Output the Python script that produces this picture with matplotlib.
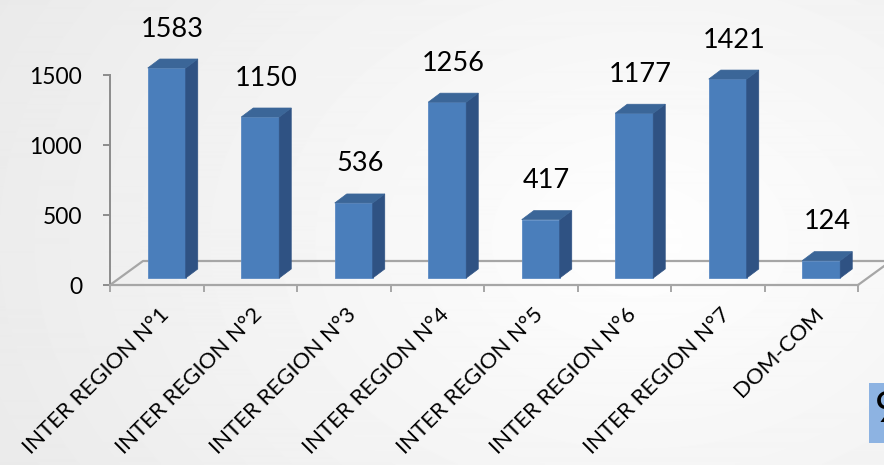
import numpy as np
import matplotlib
matplotlib.use('Agg')
import matplotlib.pyplot as plt
from matplotlib.patches import Polygon, Rectangle
import matplotlib.transforms as mtransforms

categories = ["INTER REGION N°1", "INTER REGION N°2", "INTER REGION N°3",
              "INTER REGION N°4", "INTER REGION N°5", "INTER REGION N°6",
              "INTER REGION N°7", "DOM-COM"]
values = [1583, 1150, 536, 1256, 417, 1177, 1421, 124]
y_ticks = [0, 500, 1000, 1500]
slide_number = "9"

plt.rcParams['font.family'] = ['Lato', 'DejaVu Sans']

W, H = 884, 465
fig = plt.figure(figsize=(W / 100, H / 100), dpi=100)

# background (soft radial gradient)
bg = fig.add_axes([0, 0, 1, 1], zorder=-10)
yy, xx = np.mgrid[0:H, 0:W]
r = np.hypot((xx - 640) / 720.0, (yy - 240) / 520.0)
shade = 0.997 - 0.08 * np.clip(r, 0, 1.3)
bg.imshow(shade, cmap='gray', vmin=0, vmax=1, aspect='auto', extent=[0, 1, 0, 1],
          interpolation='bilinear')
bg.axis('off')

# main axes (front plane)
ax = fig.add_axes([110 / W, 180 / H, 748 / W, 210 / H])
n = len(values)
ax.set_xlim(-0.5, n - 0.5)
ax.set_ylim(y_ticks[0], y_ticks[-1])
ax.patch.set_alpha(0)

px_x = 748 / n
px_y = 210 / (y_ticks[-1] - y_ticks[0])
def dx(p):
    return p / px_x
def dy(p):
    return p / px_y

axis_col = '#8c8c8c'
floor_col = '#a6a6a6'

# floor outline
fd_x, fd_y = dx(33), dy(24)
ax.plot([-0.5, -0.5 + fd_x, n - 0.5 + fd_x * 2], [0, fd_y, fd_y],
        color=floor_col, lw=1.6, clip_on=False, zorder=1)
ax.plot([n - 0.5, n - 0.5 + fd_x], [0, fd_y], color=floor_col, lw=1.6,
        clip_on=False, zorder=1)

# bars
x = np.arange(n)
heights = np.minimum(values, y_ticks[-1])
off_x, off_y = dx(10), dy(7)
bd_x, bd_y = dx(12), dy(9)
front_col, side_col, top_col = '#4a7ebb', '#2f5283', '#3b6698'
bars = ax.bar(x + off_x, heights, width=dx(38), bottom=off_y, color=front_col,
              edgecolor='#5b8ac4', linewidth=0.6, clip_on=False, zorder=3)
for b, v in zip(bars, values):
    x0, y0, w, h = b.get_x(), b.get_y(), b.get_width(), b.get_height()
    side = Polygon([(x0 + w, y0), (x0 + w + bd_x, y0 + bd_y),
                    (x0 + w + bd_x, y0 + h + bd_y), (x0 + w, y0 + h)],
                   closed=True, facecolor=side_col, edgecolor=side_col, lw=0.5,
                   clip_on=False, zorder=3)
    top = Polygon([(x0, y0 + h), (x0 + w, y0 + h), (x0 + w + bd_x, y0 + h + bd_y),
                   (x0 + bd_x, y0 + h + bd_y)],
                  closed=True, facecolor=top_col, edgecolor=top_col, lw=0.5,
                  clip_on=False, zorder=3)
    ax.add_patch(side)
    ax.add_patch(top)
    ax.text(x0 + w / 2 + bd_x / 2, y0 + h + bd_y + dy(30), f"{v}",
            ha='center', va='center', fontsize=19.5, color='black', clip_on=False)

# spines and ticks
for s in ['top', 'right']:
    ax.spines[s].set_visible(False)
ax.spines['left'].set_color(axis_col)
ax.spines['left'].set_linewidth(1.4)
ax.spines['bottom'].set_color(floor_col)
ax.spines['bottom'].set_linewidth(1.6)

ax.set_yticks(y_ticks)
ax.tick_params(axis='y', length=5, width=1.4, color=axis_col, labelsize=16.5,
               pad=15, labelcolor='black')

ax.set_xticks(x)
ax.set_xticklabels(categories, rotation=45, ha='right', va='top',
                   rotation_mode='anchor', fontsize=16)
ax.set_xticks(np.arange(-0.5, n, 1.0), minor=True)
ax.tick_params(axis='x', which='major', length=0, pad=14)
ax.tick_params(axis='x', which='minor', length=5, width=1.4, color=floor_col)
shift = mtransforms.ScaledTranslation(2 / 100, 0, fig.dpi_scale_trans)
for lab in ax.get_xticklabels():
    lab.set_transform(lab.get_transform() + shift)

# slide number box
fig.patches.append(Rectangle((869 / W, (465 - 443) / H), 30 / W, 60 / H,
                             transform=fig.transFigure, facecolor='#8db3e2',
                             edgecolor='none', zorder=5))
fig.text(875 / W, (465 - 410) / H, slide_number, fontsize=30, ha='left',
         va='center', color='black', zorder=6)

fig.savefig('out.png', dpi=100)
